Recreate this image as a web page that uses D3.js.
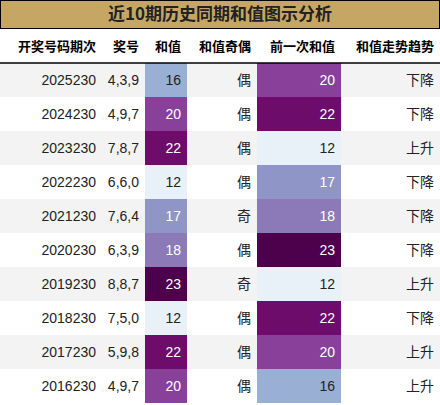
<!DOCTYPE html>
<html><head><meta charset="utf-8">
<script src="https://cdn.jsdelivr.net/npm/d3@7"></script>
<style>body{margin:0;background:#fff}</style>
</head><body><div id="chart"></div>
<script>
var title = "近10期历史同期和值图示分析";
var headers = ["开奖号码期次", "奖号", "和值", "和值奇偶", "前一次和值", "和值走势趋势"];
var periods = ["2025230", "2024230", "2023230", "2022230", "2021230", "2020230", "2019230", "2018230", "2017230", "2016230"];
var numbers = ["4,3,9", "4,9,7", "7,8,7", "6,6,0", "7,6,4", "6,3,9", "8,8,7", "7,5,0", "5,9,8", "4,9,7"];
var sums = [16, 20, 22, 12, 17, 18, 23, 12, 22, 20];
var parity = ["偶", "偶", "偶", "偶", "奇", "偶", "奇", "偶", "偶", "偶"];
var prevSums = [20, 22, 12, 17, 18, 23, 12, 22, 20, 16];
var trends = ["下降", "下降", "上升", "下降", "下降", "下降", "上升", "下降", "上升", "上升"];

const width = 440, height = 405;
const titleH = 28, headH = 35, rowH = 34;
const colEdges = [0, 102, 145, 187, 257, 341, 440];
const font = "'Liberation Sans','Noto Sans CJK SC',sans-serif";

const color = d3.scaleSequential(d3.interpolateBuPu).domain([11, 23]);

let svg = d3.select('#chart').append('svg')
    .attr('width', width).attr('height', height);

// title
svg.append('rect').attr('x', 0.5).attr('y', 0.5).attr('width', width - 1).attr('height', titleH)
    .attr('fill', '#c6a664').attr('stroke', '#000');
svg.append('text').attr('x', width / 2).attr('y', 20).attr('text-anchor', 'middle')
    .style('font-family', "'Noto Sans CJK SC'").style('font-weight', 'bold').style('font-size', '17px')
    .style('fill', '#222').text(title);

// header
svg.selectAll('.hd').data(headers).enter().append('text')
    .attr('x', (d, i) => colEdges[i + 1] - 6).attr('y', titleH + 23)
    .attr('text-anchor', 'end')
    .style('font-family', "'Noto Sans CJK SC'").style('font-weight', 'bold').style('font-size', '13px')
    .text(d => d);

const bodyTop = titleH + headH;
const y = d3.scaleBand().domain(d3.range(periods.length)).range([bodyTop, bodyTop + rowH * periods.length]);

let rows = svg.selectAll('.row').data(periods).enter().append('g')
    .attr('transform', (d, i) => `translate(0,${y(i)})`);

rows.append('rect').attr('width', width).attr('height', rowH)
    .attr('fill', (d, i) => i % 2 === 0 ? '#f3f3f3' : '#fff');
rows.append('rect').attr('x', colEdges[2]).attr('width', colEdges[3] - colEdges[2]).attr('height', rowH)
    .attr('fill', (d, i) => color(sums[i]));
rows.append('rect').attr('x', colEdges[4]).attr('width', colEdges[5] - colEdges[4]).attr('height', rowH)
    .attr('fill', (d, i) => color(prevSums[i]));

const cols = [periods, numbers, sums, parity, prevSums, trends];
cols.forEach(function(arr, c) {
    rows.append('text')
        .attr('x', colEdges[c + 1] - 6).attr('y', 22)
        .attr('text-anchor', 'end')
        .style('font-family', font).style('font-size', '14px')
        .style('fill', (d, i) => (c === 2 || c === 4) && arr[i] >= 17 ? '#fff' : '#222')
        .text((d, i) => arr[i]);
});

svg.append('line').attr('x1', 0).attr('x2', width).attr('y1', bodyTop).attr('y2', bodyTop)
    .attr('stroke', '#000').attr('stroke-width', 1.5);
</script>
</body></html>
